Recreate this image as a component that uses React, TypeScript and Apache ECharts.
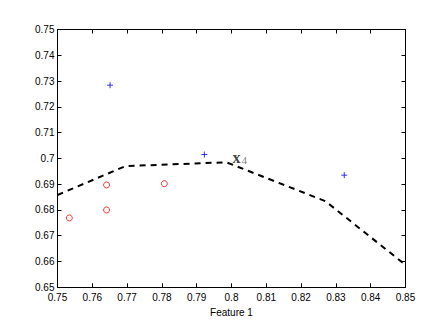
import React, { useEffect, useRef } from "react";
import * as echarts from "echarts";

const classPlus: [number, number][] = [
  [0.7651, 0.7284],
  [0.7922, 0.7015],
  [0.8324, 0.6935],
];
const classCircle: [number, number][] = [
  [0.7534, 0.6769],
  [0.7641, 0.6897],
  [0.7641, 0.68],
  [0.7807, 0.6902],
];
const boundary: [number, number][] = [
  [0.75, 0.6858],
  [0.7695, 0.697],
  [0.7985, 0.6985],
  [0.827, 0.6834],
  [0.85, 0.6587],
];
const labelAnchor: [number, number][] = [[0.8, 0.6985]];
const xTickMin = 0.75;
const xTickMax = 0.85;
const yTickMin = 0.65;
const yTickMax = 0.75;
const tickStep = 0.01;

const fmt = (v: number) => String(Number(v.toFixed(2)));

export default function App() {
  const ref = useRef<HTMLDivElement>(null);
  useEffect(() => {
    if (!ref.current) return;
    const chart = echarts.init(ref.current, null, { renderer: "svg" });
    const font = { fontFamily: "Liberation Sans", fontSize: 10, color: "#000" };
    const baseX = {
      type: "value" as const,
      min: xTickMin,
      max: xTickMax,
      interval: tickStep,
      splitLine: { show: false },
      axisLine: { show: true, onZero: false, lineStyle: { color: "#000", width: 1 } },
      axisTick: { show: true, inside: true, length: 4, lineStyle: { color: "#000" } },
    };
    const baseY = {
      type: "value" as const,
      min: yTickMin,
      max: yTickMax,
      interval: tickStep,
      splitLine: { show: false },
      axisLine: { show: true, onZero: false, lineStyle: { color: "#000", width: 1 } },
      axisTick: { show: true, inside: true, length: 4, lineStyle: { color: "#000" } },
    };
    chart.setOption({
      animation: false,
      backgroundColor: "#fff",
      grid: { left: 57.5, top: 29.5, right: 37.5, bottom: 44.7, containLabel: false },
      xAxis: [
        {
          ...baseX,
          position: "bottom",
          name: "Feature 1",
          nameLocation: "middle",
          nameGap: 17,
          nameTextStyle: { ...font },
          axisLabel: { ...font, margin: 5, formatter: fmt },
        },
        { ...baseX, position: "top", axisLabel: { show: false } },
      ],
      yAxis: [
        {
          ...baseY,
          position: "left",
          axisLabel: { ...font, margin: 3, formatter: fmt },
        },
        { ...baseY, position: "right", axisLabel: { show: false } },
      ],
      series: [
        {
          type: "line",
          data: boundary,
          symbol: "none",
          lineStyle: { color: "#000", width: 2, type: [6, 5] },
          z: 2,
        },
        {
          type: "scatter",
          data: classPlus,
          symbol: "path://M0,-1L0,1M-1,0L1,0",
          symbolSize: 6,
          itemStyle: { color: "none", borderColor: "#0000ff", borderWidth: 1 },
          z: 3,
        },
        {
          type: "scatter",
          data: classCircle,
          symbol: "circle",
          symbolSize: 6,
          itemStyle: { color: "none", borderColor: "#ff0000", borderWidth: 1 },
          z: 3,
        },
        {
          type: "scatter",
          data: labelAnchor,
          symbolSize: 0,
          silent: true,
          itemStyle: { color: "none" },
          label: {
            show: true,
            position: [1, -13],
            align: "left",
            verticalAlign: "top",
            formatter: "{x|x}{s|4}",
            color: "#000",
            rich: {
              x: { fontFamily: "Liberation Serif", fontWeight: "bold", fontSize: 16, color: "#111", lineHeight: 16 },
              s: { fontFamily: "Liberation Serif", fontSize: 11, color: "#555", padding: [6, 0, 0, 1], lineHeight: 16 },
            },
          },
          z: 4,
        },
      ],
    });
    return () => chart.dispose();
  }, []);
  return (
    <div
      ref={ref}
      style={{ position: "fixed", left: 0, top: 0, width: 443, height: 332, background: "#fff" }}
    />
  );
}
